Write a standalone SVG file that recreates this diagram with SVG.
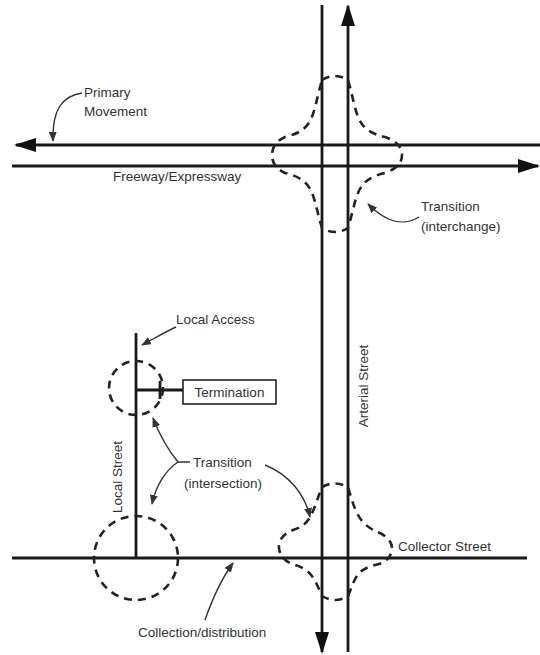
<svg xmlns="http://www.w3.org/2000/svg" width="540" height="655" viewBox="0 0 540 655">
<style>
.road{stroke:#1a1a1a;stroke-width:2.8;fill:none}
.dash{stroke:#222;stroke-width:2.6;fill:none;stroke-dasharray:8 6}
.lead{stroke:#333;stroke-width:1.4;fill:none}
text{font-family:"Liberation Sans",Arial,sans-serif;font-size:13.5px;fill:#333}
</style>
<defs>
<marker id="big" markerUnits="userSpaceOnUse" markerWidth="22" markerHeight="14" refX="20" refY="7" orient="auto"><path d="M0,0 L22,7 L0,14 Z" fill="#111"/></marker>
<marker id="small" markerUnits="userSpaceOnUse" markerWidth="10" markerHeight="8" refX="9" refY="4" orient="auto"><path d="M0,0 L10,4 L0,8 Z" fill="#333"/></marker>
</defs>
<rect width="540" height="655" fill="#fff"/>
<g id="connectors">
<line class="road" x1="540" y1="145" x2="16" y2="145" marker-end="url(#big)"/>
<line class="road" x1="12" y1="166" x2="538" y2="166" marker-end="url(#big)"/>
<line class="road" x1="322" y1="5" x2="322" y2="652" marker-end="url(#big)"/>
<line class="road" x1="348" y1="652" x2="348" y2="6" marker-end="url(#big)"/>
<line class="road" x1="12" y1="558" x2="527" y2="558" stroke="#333"/>
<line class="road" x1="136" y1="333" x2="136" y2="558"/>
<line class="road" x1="136" y1="390" x2="183" y2="390"/>
<line class="road" x1="160" y1="381" x2="160" y2="399"/>
<path class="lead" d="M82,93 C62,96 52,110 53,141" marker-end="url(#small)"/>
<path class="lead" d="M419,217 C404,226 388,224 368,204" marker-end="url(#small)"/>
<path class="lead" d="M176,327 C165,332 155,338 142,345" marker-end="url(#small)"/>
<path class="lead" d="M190,462 L178,462 C168,450 160,436 153,418" marker-end="url(#small)"/>
<path class="lead" d="M178,462 C166,470 156,485 152,504" marker-end="url(#small)"/>
<path class="lead" d="M265,465 C290,475 305,495 310,517" marker-end="url(#small)"/>
<path class="lead" d="M205,620 C212,600 222,578 233,563" marker-end="url(#small)"/>
</g>
<g id="interchange">
<path class="dash" d="M322,80 Q335,72 348,80 C358,115 355,130 385,137 Q402,143 402,155 Q402,167 385,173 C355,180 358,195 348,228 Q335,236 322,228 C312,195 315,180 285,173 Q272,167 272,155 Q272,143 285,137 C315,130 312,115 322,80 Z"/>
</g>
<g id="collector-intersection">
<path class="dash" d="M322,487 Q335,480 348,487 C356,515 360,525 380,533 Q393,540 392,550 Q390,562 375,565 C355,570 355,580 348,596 Q335,604 322,596 C315,580 312,570 295,565 Q280,560 279,548 Q278,536 293,530 C312,524 312,512 322,487 Z"/>
</g>
<g id="local-access">
<circle class="dash" cx="136" cy="388" r="27"/>
</g>
<g id="local-intersection">
<circle class="dash" cx="136" cy="558" r="42"/>
</g>
<g id="termination">
<rect x="183" y="380" width="93" height="24" fill="#fff" stroke="#222" stroke-width="1.6"/>
<text x="229.5" y="397" text-anchor="middle">Termination</text>
</g>
<g id="labels">
<text x="84" y="97">Primary</text>
<text x="84" y="116">Movement</text>
<text x="113" y="181">Freeway/Expressway</text>
<text x="421" y="211">Transition</text>
<text x="421" y="231">(interchange)</text>
<text x="176" y="324">Local Access</text>
<text x="193" y="467">Transition</text>
<text x="184" y="488">(intersection)</text>
<text x="398" y="551">Collector Street</text>
<text x="138" y="637">Collection/distribution</text>
<text transform="translate(122,477) rotate(-90)" text-anchor="middle">Local Street</text>
<text transform="translate(368,386) rotate(-90)" text-anchor="middle">Arterial Street</text>
</g>
</svg>
